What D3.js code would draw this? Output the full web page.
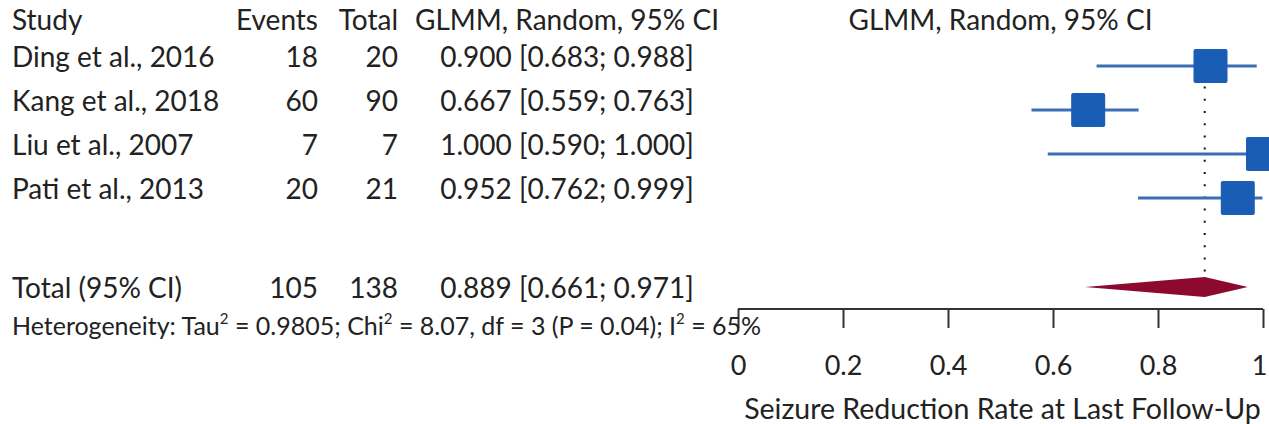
<!DOCTYPE html>
<html>
<head>
<meta charset="utf-8">
<script src="https://cdn.jsdelivr.net/npm/d3@7"></script>
<style>
    body { margin: 0; background: #fff; }
    svg { display: block; font-family: Lato, "Noto Sans", sans-serif; }
    .txt { fill: #222; font-size: 28px; }
    .axis text { fill: #222; font-size: 27px; font-family: Lato, "Noto Sans", sans-serif; }
    .axis path, .axis line { stroke: #333; stroke-width: 2; }
</style>
</head>
<body>
<div id="chart"></div>
<script>
var studies = ["Ding et al., 2016", "Kang et al., 2018", "Liu et al., 2007", "Pati et al., 2013"],
    events = [18, 60, 7, 20],
    totals = [20, 90, 7, 21],
    est = [0.900, 0.667, 1.000, 0.952],
    lower = [0.683, 0.559, 0.590, 0.762],
    upper = [0.988, 0.763, 1.000, 0.999];

var pooled = {label: "Total (95% CI)", events: 105, total: 138, est: 0.889, lower: 0.661, upper: 0.971};

var tickValues = [0, 0.2, 0.4, 0.6, 0.8, 1],
    tickLabels = ["0", "0.2", "0.4", "0.6", "0.8", "1"];

var width = 1269,
    height = 424;

var svg = d3.select("#chart").append("svg")
    .attr("width", width)
    .attr("height", height);

// scales
var x = d3.scaleLinear().domain([0, 1]).range([738, 1263]);
var row = d3.scaleLinear().domain([0, 1]).range([67, 111]); // text baselines
var totalRow = 5.25;

var fmt = d3.format(".3f");
function ciText(e, l, u) {
    return fmt(e) + " [" + fmt(l) + "; " + fmt(u) + "]";
}

// header
var header = svg.append("g").attr("class", "txt");
header.append("text").attr("x", 12).attr("y", 30).text("Study");
header.append("text").attr("x", 318).attr("y", 30).attr("text-anchor", "end").text("Events");
header.append("text").attr("x", 398).attr("y", 30).attr("text-anchor", "end").text("Total");
header.append("text").attr("x", 567).attr("y", 30).attr("text-anchor", "middle").text("GLMM, Random, 95% CI");
header.append("text").attr("x", (x(0) + x(1)) / 2).attr("y", 30).attr("text-anchor", "middle").text("GLMM, Random, 95% CI");

// study rows text
var rows = svg.append("g").attr("class", "txt")
    .selectAll("g")
    .data(studies)
    .enter().append("g");

rows.append("text").attr("x", 12).attr("y", function (d, i) { return row(i); }).text(function (d) { return d; });
rows.append("text").attr("x", 318).attr("y", function (d, i) { return row(i); })
    .attr("text-anchor", "end").text(function (d, i) { return events[i]; });
rows.append("text").attr("x", 398).attr("y", function (d, i) { return row(i); })
    .attr("text-anchor", "end").text(function (d, i) { return totals[i]; });
rows.append("text").attr("x", 567).attr("y", function (d, i) { return row(i); })
    .attr("text-anchor", "middle").text(function (d, i) { return ciText(est[i], lower[i], upper[i]); });

// total row text
var tot = svg.append("g").attr("class", "txt");
tot.append("text").attr("x", 12).attr("y", row(totalRow)).text(pooled.label);
tot.append("text").attr("x", 318).attr("y", row(totalRow)).attr("text-anchor", "end").text(pooled.events);
tot.append("text").attr("x", 398).attr("y", row(totalRow)).attr("text-anchor", "end").text(pooled.total);
tot.append("text").attr("x", 567).attr("y", row(totalRow)).attr("text-anchor", "middle")
    .text(ciText(pooled.est, pooled.lower, pooled.upper));

// reference line at pooled estimate
svg.append("line")
    .attr("x1", x(pooled.est)).attr("x2", x(pooled.est))
    .attr("y1", 50).attr("y2", row(totalRow) - 21)
    .style("stroke", "#111")
    .style("stroke-width", 2)
    .style("stroke-dasharray", "2,10.2");

// confidence intervals
svg.append("g").selectAll("line")
    .data(studies)
    .enter().append("line")
    .attr("x1", function (d, i) { return x(lower[i]); })
    .attr("x2", function (d, i) { return x(upper[i]); })
    .attr("y1", function (d, i) { return row(i) - 1; })
    .attr("y2", function (d, i) { return row(i) - 1; })
    .style("stroke", "#3a6fb3")
    .style("stroke-width", 3);

// squares
var sq = 34;
svg.append("g").selectAll("rect")
    .data(studies)
    .enter().append("rect")
    .attr("x", function (d, i) { return x(est[i]) - sq / 2; })
    .attr("y", function (d, i) { return row(i) - 1 - sq / 2; })
    .attr("width", sq)
    .attr("height", sq)
    .attr("rx", 2)
    .style("fill", "#1a5db5");

// diamond
var dy = row(totalRow) - 11;
svg.append("path")
    .attr("d", d3.line()([
        [x(pooled.lower), dy],
        [x(pooled.est), dy - 10],
        [x(pooled.upper), dy],
        [x(pooled.est), dy + 10]
    ]) + "Z")
    .style("fill", "#8c0a30");

// x axis
var axis = svg.append("g")
    .attr("class", "axis")
    .attr("transform", "translate(0,309)")
    .call(d3.axisBottom(x)
        .tickValues(tickValues)
        .tickFormat(function (d, i) { return tickLabels[i]; })
        .tickSizeInner(19)
        .tickSizeOuter(0)
        .tickPadding(28));
axis.select(".domain").attr("d", "M" + x(0) + ",0H" + x(1));
axis.selectAll(".tick line").attr("y1", 0);
axis.selectAll(".tick text").filter(function (d) { return d === 1; }).attr("dx", -4);

svg.append("text")
    .attr("class", "txt")
    .attr("x", (x(0) + x(1)) / 2 + 2)
    .attr("y", 419)
    .attr("text-anchor", "middle")
    .style("font-size", "28.5px")
    .text("Seizure Reduction Rate at Last Follow-Up");

// heterogeneity
var het = svg.append("text").attr("class", "txt").attr("x", 12).attr("y", 335).style("font-size", "25px");
het.append("tspan").text("Heterogeneity: Tau");
het.append("tspan").attr("dy", -11).style("font-size", "15px").text("2");
het.append("tspan").attr("dy", 11).text(" = 0.9805; Chi");
het.append("tspan").attr("dy", -11).style("font-size", "15px").text("2");
het.append("tspan").attr("dy", 11).text(" = 8.07, df = 3 (P = 0.04); I");
het.append("tspan").attr("dy", -11).style("font-size", "15px").text("2");
het.append("tspan").attr("dy", 11).text(" = 65%");
</script>
</body>
</html>
